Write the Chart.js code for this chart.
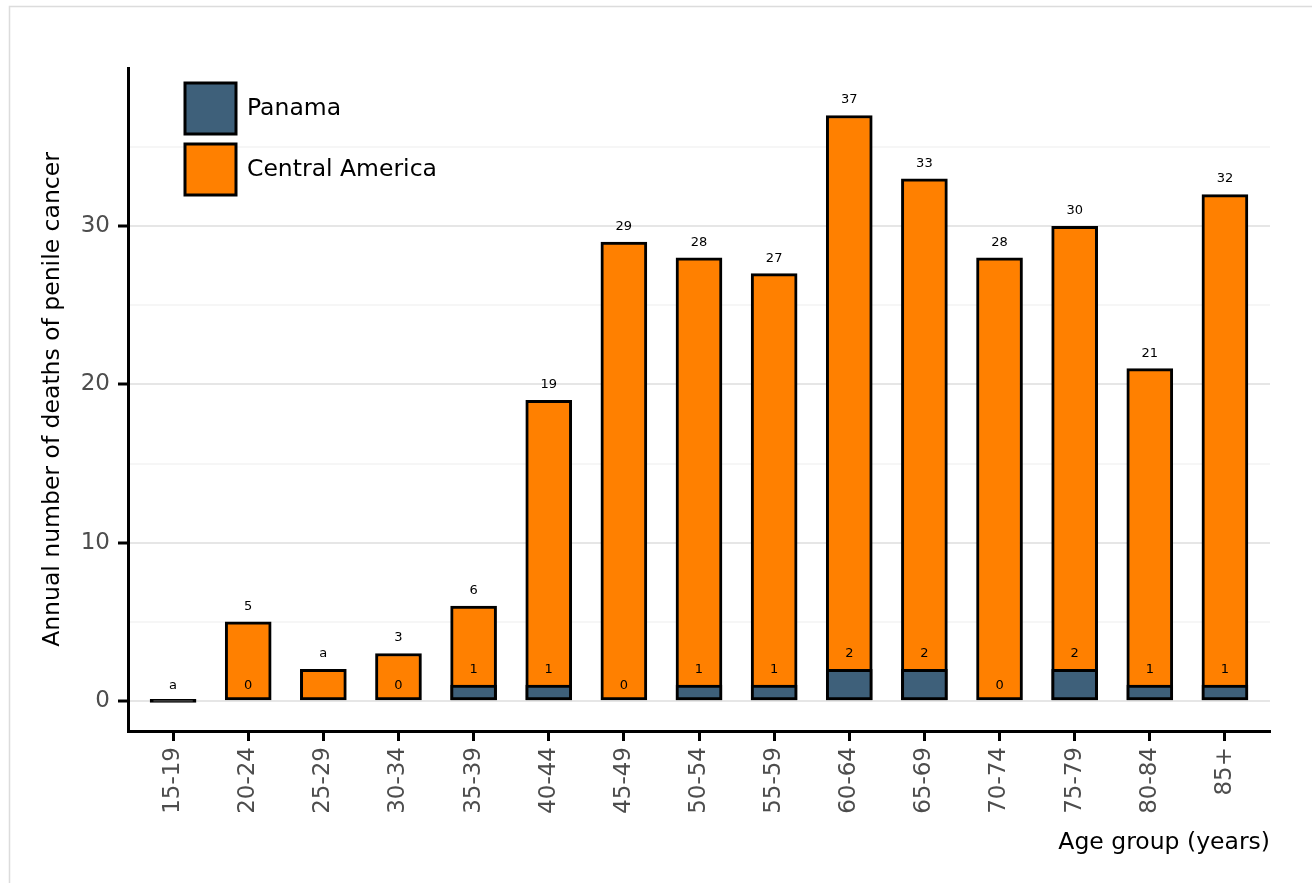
<!DOCTYPE html>
<html>
<head>
<meta charset="utf-8">
<script src="https://cdn.jsdelivr.net/npm/chart.js@4.4.0/dist/chart.umd.min.js"></script>
<style>
  html, body { margin: 0; padding: 0; background: #fff; }
  #wrap { width: 1312px; height: 883px; }
</style>
</head>
<body>
<div id="wrap"><canvas id="chart" width="1312" height="883"></canvas></div>
<script>
// age groups on the x axis
const ageGroups = ["15-19", "20-24", "25-29", "30-34", "35-39", "40-44", "45-49", "50-54",
  "55-59", "60-64", "65-69", "70-74", "75-79", "80-84", "85+"];

// annual deaths
const centralAmerica = [0, 5, 2, 3, 6, 19, 29, 28, 27, 37, 33, 28, 30, 21, 32];
const panama = [0, 0, 0, 0, 1, 1, 0, 1, 1, 2, 2, 0, 2, 1, 1];

// text printed over the bars
const centralLabels = ["a", "5", "a", "3", "6", "19", "29", "28", "27", "37", "33", "28", "30", "21", "32"];
const panamaLabels = ["", "0", "", "0", "1", "1", "0", "1", "1", "2", "2", "0", "2", "1", "1"];

const yTicks = [0, 5, 10, 15, 20, 25, 30, 35];

const FONT = "'DejaVu Sans', sans-serif";
const BLUE = '#3e607a';
const ORANGE = '#ff8000';

// light frame round the figure
const framePlugin = {
  id: 'frame',
  beforeDraw(chart) {
    const ctx = chart.ctx;
    ctx.save();
    ctx.fillStyle = '#fff';
    ctx.fillRect(0, 0, chart.width, chart.height);
    ctx.strokeStyle = '#dcdcdc';
    ctx.lineWidth = 1.5;
    ctx.strokeRect(9.5, 6.5, chart.width, chart.height + 20);
    ctx.restore();
  }
};

// value labels above each bar
const labelPlugin = {
  id: 'barLabels',
  afterDatasetsDraw(chart) {
    const ctx = chart.ctx;
    const x = chart.scales.x, y = chart.scales.y;
    ctx.save();
    ctx.font = "13px " + FONT;
    ctx.fillStyle = '#000';
    ctx.textAlign = 'center';
    ctx.textBaseline = 'middle';
    ageGroups.forEach((g, i) => {
      const px = x.getPixelForValue(i);
      ctx.fillText(centralLabels[i], px, y.getPixelForValue(centralAmerica[i]) - 15.5);
      if (panamaLabels[i]) {
        ctx.fillText(panamaLabels[i], px, y.getPixelForValue(panama[i]) - 15.5);
      }
    });
    ctx.restore();
  }
};

// legend inside the plot, top left
const legendColors = [BLUE, ORANGE];
const legendPlugin = {
  id: 'boxLegend',
  afterDraw(chart) {
    const ctx = chart.ctx;
    const area = chart.chartArea;
    const left = area.left + 57, top = area.top + 15, box = 51, gap = 10;
    ctx.save();
    ctx.font = "23.5px " + FONT;
    ctx.textBaseline = 'middle';
    chart.data.datasets.forEach((ds, i) => {
      const ty = top + i * (box + gap);
      ctx.fillStyle = legendColors[i];
      ctx.fillRect(left, ty, box, box);
      ctx.lineWidth = 3;
      ctx.strokeStyle = '#000';
      ctx.strokeRect(left, ty, box, box);
      ctx.fillStyle = '#000';
      ctx.fillText(ds.label, left + box + 11, ty + box / 2);
    });
    ctx.restore();
  }
};

const pts = arr => arr.map((v, i) => ({ x: i, y: v }));

new Chart(document.getElementById('chart'), {
  type: 'bar',
  data: {
    datasets: [
      {
        label: 'Panama',
        data: pts(panama).filter(p => p.y > 0),
        backgroundColor: BLUE,
        borderColor: '#000',
        borderWidth: 3,
        borderSkipped: false,
        grouped: false,
        barThickness: 46
      },
      {
        label: 'Central America',
        data: pts(centralAmerica),
        // a zero bar shows only as a black line
        backgroundColor: centralAmerica.map(v => (v === 0 ? '#000' : ORANGE)),
        borderColor: '#000',
        borderWidth: 3,
        borderSkipped: false,
        grouped: false,
        minBarLength: 3,
        barThickness: 46
      }
    ]
  },
  options: {
    responsive: false,
    animation: false,
    layout: { padding: { top: 68, right: 42, left: 0, bottom: 0 } },
    plugins: {
      legend: { display: false },
      tooltip: { enabled: false }
    },
    scales: {
      x: {
        type: 'linear',
        position: 'bottom',
        offset: false,
        min: -0.6,
        max: 14.6,
        afterBuildTicks(scale) {
          scale.ticks = ageGroups.map((g, i) => ({ value: i }));
        },
        afterFit(scale) { scale.height = 152; },
        ticks: {
          callback: v => ageGroups[v],
          minRotation: 90,
          maxRotation: 90,
          autoSkip: false,
          padding: 6,
          color: '#4d4d4d',
          font: { family: FONT, size: 23 }
        },
        grid: {
          offset: false,
          drawOnChartArea: false,
          tickLength: 10,
          tickWidth: 3,
          tickColor: '#000'
        },
        border: { display: true, color: '#000', width: 3 },
        title: {
          display: true,
          text: 'Age group (years)',
          align: 'end',
          color: '#000',
          font: { family: FONT, size: 23.5 },
          padding: { top: 0, bottom: 26 }
        }
      },
      y: {
        min: -1.9,
        max: 40,
        afterBuildTicks(scale) {
          scale.ticks = yTicks.map(v => ({ value: v }));
        },
        afterFit(scale) { scale.width = 128; },
        ticks: {
          callback: v => (v % 10 === 0 ? v : ''),
          padding: 8,
          color: '#4d4d4d',
          font: { family: FONT, size: 23 }
        },
        grid: {
          color: c => (c.tick && c.tick.value % 10 === 0 ? '#e6e6e6' : '#f6f6f6'),
          lineWidth: 2,
          tickLength: 10,
          tickWidth: 3,
          tickColor: c => (c.tick && c.tick.value % 10 === 0 ? '#000' : 'rgba(0,0,0,0)')
        },
        border: { display: true, color: '#000', width: 3 },
        title: {
          display: true,
          text: 'Annual number of deaths of penile cancer',
          color: '#000',
          font: { family: FONT, size: 23.5 },
          padding: { top: 39, bottom: 0 }
        }
      }
    }
  },
  plugins: [framePlugin, labelPlugin, legendPlugin]
});
</script>
</body>
</html>
